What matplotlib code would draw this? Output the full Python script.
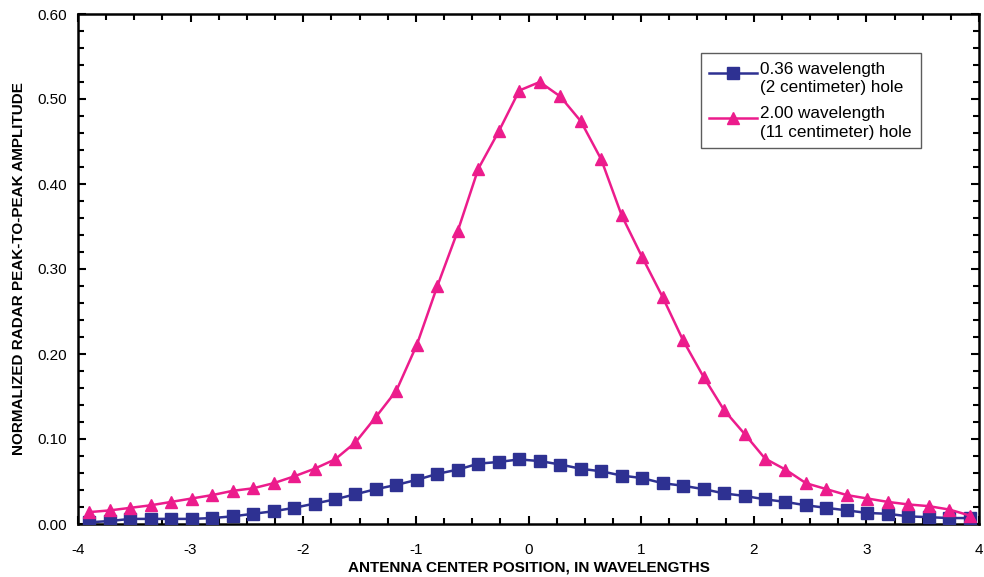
import numpy as np
import matplotlib
matplotlib.use("Agg")
import matplotlib.pyplot as plt
from matplotlib.ticker import MultipleLocator
from matplotlib.legend_handler import HandlerLine2D

plt.rcParams['font.family'] = ['Liberation Sans', 'DejaVu Sans']

# Antenna positions (wavelengths): 1 cm steps, wavelength = 5.5 cm
x_start = -3.9
x_step = 1 / 5.5
n_points = 44
positions = x_start + x_step * np.arange(n_points)

small_hole = [0.002, 0.0035, 0.006, 0.006, 0.006, 0.006, 0.007, 0.009, 0.012, 0.015,
              0.019, 0.024, 0.029, 0.035, 0.041, 0.046, 0.052, 0.059, 0.064, 0.071,
              0.073, 0.076, 0.074, 0.070, 0.065, 0.062, 0.057, 0.054, 0.048, 0.045,
              0.041, 0.036, 0.033, 0.029, 0.026, 0.022, 0.019, 0.016, 0.013, 0.012,
              0.009, 0.008, 0.007, 0.007]

large_hole = [0.014, 0.016, 0.019, 0.022, 0.026, 0.030, 0.034, 0.039, 0.042, 0.048,
              0.056, 0.065, 0.076, 0.096, 0.126, 0.157, 0.211, 0.280, 0.345, 0.418,
              0.462, 0.510, 0.520, 0.503, 0.474, 0.429, 0.363, 0.314, 0.267, 0.216,
              0.173, 0.134, 0.106, 0.077, 0.064, 0.048, 0.041, 0.034, 0.030, 0.026,
              0.023, 0.021, 0.017, 0.010]

labels = ["0.36 wavelength\n(2 centimeter) hole",
          "2.00 wavelength\n(11 centimeter) hole"]
xlabel = "ANTENNA CENTER POSITION, IN WAVELENGTHS"
ylabel = "NORMALIZED RADAR PEAK-TO-PEAK AMPLITUDE"

blue = "#2E3192"
pink = "#EC1C8C"

fig = plt.figure(figsize=(9.84, 5.77), dpi=100)
ax = fig.add_axes([78/984, 53/577, 901/984, 510/577])

l1, = ax.plot(positions, small_hole, color=blue, lw=1.8, marker='s', ms=8,
              mec=blue, mfc=blue, label=labels[0], zorder=3)
l2, = ax.plot(positions, large_hole, color=pink, lw=1.8, marker='^', ms=8.5,
              mec=pink, mfc=pink, label=labels[1], zorder=3)

ax.set_xlim(-4, 4)
ax.set_ylim(0, 0.6)
ax.xaxis.set_major_locator(MultipleLocator(1))
ax.xaxis.set_minor_locator(MultipleLocator(0.25))
ax.yaxis.set_major_locator(MultipleLocator(0.1))
ax.yaxis.set_minor_locator(MultipleLocator(0.02))
ax.yaxis.set_major_formatter(matplotlib.ticker.FormatStrFormatter('%.2f'))
ax.xaxis.set_major_formatter(matplotlib.ticker.FuncFormatter(lambda v, p: f"{int(round(v))}"))

ax.tick_params(which='both', direction='in', top=True, right=True, width=1.5, colors='black')
ax.tick_params(which='major', length=6)
ax.tick_params(which='minor', length=4)
ax.tick_params(axis='x', which='major', pad=14, labelsize=11)
ax.tick_params(axis='y', which='major', pad=8, labelsize=11)
for s in ax.spines.values():
    s.set_linewidth(1.8)
    s.set_color('black')

ax.set_xlabel(xlabel, fontsize=11, fontweight='bold', labelpad=2)
ax.set_ylabel(ylabel, fontsize=11, fontweight='bold', labelpad=8)


class UpperHandler(HandlerLine2D):
    def create_artists(self, legend, orig_handle, xdescent, ydescent, width, height, fontsize, trans):
        return super().create_artists(legend, orig_handle, xdescent, ydescent - 0.6 * fontsize,
                                      width, height, fontsize, trans)


leg = ax.legend(handles=[l1, l2], loc='upper left', bbox_to_anchor=(0.691, 0.9235),
                borderaxespad=0, fontsize=12.3, frameon=True, fancybox=False,
                edgecolor='#333333', handlelength=2.8, handletextpad=0.2,
                labelspacing=0.65, borderpad=0.5,
                handler_map={l1: UpperHandler(), l2: UpperHandler()})
leg.get_frame().set_linewidth(1.0)
for t in leg.get_texts():
    t.set_linespacing(1.3)

fig.savefig("out.png", dpi=100)
